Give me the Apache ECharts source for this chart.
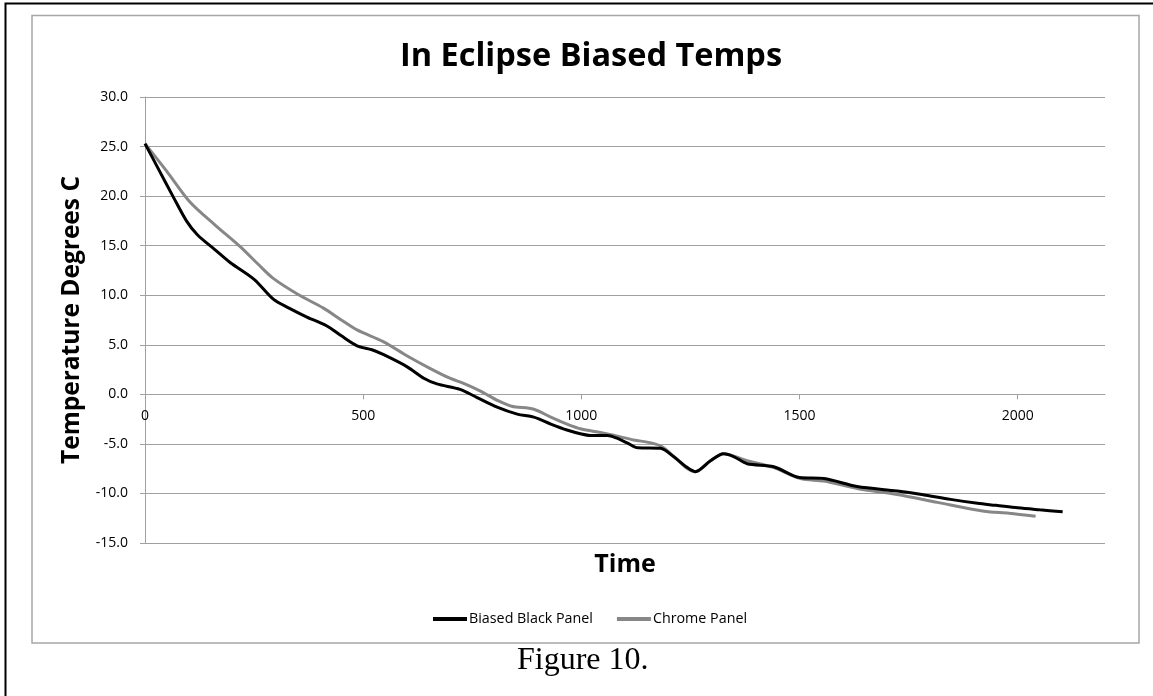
<!DOCTYPE html>
<html>
<head>
<meta charset="utf-8">
<script src="https://cdn.jsdelivr.net/npm/echarts@6/dist/echarts.min.js"></script>
<style>
html,body{margin:0;padding:0;background:#fff;}
#chart{width:1153px;height:696px;}
</style>
</head>
<body>
<div id="chart"></div>
<script>
const titleText = "In Eclipse Biased Temps";
const xAxisName = "Time";
const yAxisName = "Temperature Degrees C";
const caption = "Figure 10.";
const seriesNames = ["Biased Black Panel", "Chrome Panel"];
const xTicks = [0, 500, 1000, 1500, 2000];

const blackX = [0,30,65,95,120,160,195,250,294,330,371,417,450,486,520,547,600,640,669,722,760,807,853,891,930,967,1000,1021,1060,1080,1105,1130,1181,1212,1240,1261,1296,1326,1350,1380,1441,1500,1556,1632,1724,1780,1846,1908,1950,2000,2050,2103];
const blackY = [25.3,22.8,19.9,17.5,16.1,14.6,13.3,11.6,9.6,8.7,7.8,6.9,5.9,4.9,4.5,4.0,2.8,1.6,1.05,0.5,-0.3,-1.3,-2.0,-2.3,-3.0,-3.6,-4.0,-4.15,-4.15,-4.4,-4.9,-5.4,-5.45,-6.3,-7.3,-7.8,-6.7,-6.0,-6.3,-7.0,-7.3,-8.4,-8.5,-9.3,-9.75,-10.1,-10.6,-11.0,-11.2,-11.45,-11.65,-11.85];

const chromeX = [0,50,103,160,218,260,294,350,409,450,486,547,600,654,700,730,770,807,840,891,930,967,1000,1044,1080,1120,1160,1185,1215,1240,1261,1296,1326,1380,1441,1502,1556,1632,1724,1816,1923,1980,2041];
const chromeY = [25.3,22.5,19.4,17.1,14.9,13.1,11.7,10.1,8.7,7.5,6.5,5.3,3.9,2.6,1.6,1.1,0.3,-0.6,-1.2,-1.5,-2.3,-3.0,-3.5,-3.85,-4.2,-4.6,-4.9,-5.3,-6.4,-7.4,-7.8,-6.7,-6.0,-6.7,-7.4,-8.5,-8.75,-9.5,-10.1,-10.9,-11.8,-12.0,-12.3];

const pair = (xs, ys) => xs.map((x, i) => [x, ys[i]]);

const font = '"Open Sans", sans-serif';
const chart = echarts.init(document.getElementById('chart'), null, {renderer: 'canvas'});
chart.setOption({
  animation: false,
  backgroundColor: '#fff',
  title: {
    text: titleText,
    left: 586,
    textAlign: 'center',
    top: 35,
    textStyle: {fontFamily: font, fontSize: 32.5, fontWeight: 'bold', color: '#000'}
  },
  grid: {left: 145, right: 48, top: 97, bottom: 153, outerBoundsMode: 'none', containLabel: false},
  legend: {
    top: 607,
    left: 428,
    itemWidth: 34,
    itemHeight: 4,
    itemGap: 24,
    textStyle: {fontFamily: font, fontSize: 14.3, color: '#000', padding: [0,0,0,-3]},
    data: seriesNames.map(n => ({name: n, icon: 'rect'}))
  },
  xAxis: {
    type: 'value',
    min: 0, max: 2200, interval: 500,
    name: xAxisName,
    nameLocation: 'middle',
    nameGap: 9,
    nameTextStyle: {fontFamily: font, fontSize: 25, fontWeight: 'bold', color: '#000'},
    axisLine: {onZero: true, lineStyle: {color: '#a0a0a0', width: 1}},
    axisTick: {show: true, length: 5, lineStyle: {color: '#a0a0a0'}, customValues: xTicks},
    axisLabel: {fontFamily: font, fontSize: 14, color: '#000', margin: -134, customValues: xTicks, formatter: v => String(v)},
    splitLine: {show: false}
  },
  yAxis: {
    type: 'value',
    min: -15, max: 30, interval: 5,
    name: yAxisName,
    nameLocation: 'middle',
    nameGap: 43,
    nameTextStyle: {fontFamily: font, fontSize: 24.5, fontWeight: 'bold', color: '#000'},
    axisLine: {show: true, lineStyle: {color: '#a0a0a0', width: 1}},
    axisTick: {show: true, length: 5, lineStyle: {color: '#a0a0a0'}},
    axisLabel: {fontFamily: font, fontSize: 14, color: '#000', margin: 17, formatter: v => v.toFixed(1)},
    splitLine: {show: true, lineStyle: {color: '#a0a0a0', width: 1}}
  },
  series: [
    {
      name: seriesNames[0], type: 'line', smooth: 0.3, symbol: 'none',
      data: pair(blackX, blackY),
      lineStyle: {color: '#000', width: 3}, itemStyle: {color: '#000'}, z: 3
    },
    {
      name: seriesNames[1], type: 'line', smooth: 0.3, symbol: 'none',
      data: pair(chromeX, chromeY),
      lineStyle: {color: '#878787', width: 3}, itemStyle: {color: '#878787'}, z: 2
    }
  ],
  graphic: [
    {type: 'rect', silent: true, z: -1, shape: {x: 5.5, y: 3.5, width: 1200, height: 760},
     style: {fill: 'none', stroke: '#000', lineWidth: 2}},
    {type: 'rect', silent: true, z: -1, shape: {x: 32, y: 15.5, width: 1107, height: 627.5},
     style: {fill: 'none', stroke: '#a6a6a6', lineWidth: 1.5}},
    {type: 'text', silent: true, left: 517, top: 645,
     style: {text: caption, font: '32px "Liberation Serif", "Times New Roman", serif', fill: '#000'}}
  ]
});
</script>
</body>
</html>
